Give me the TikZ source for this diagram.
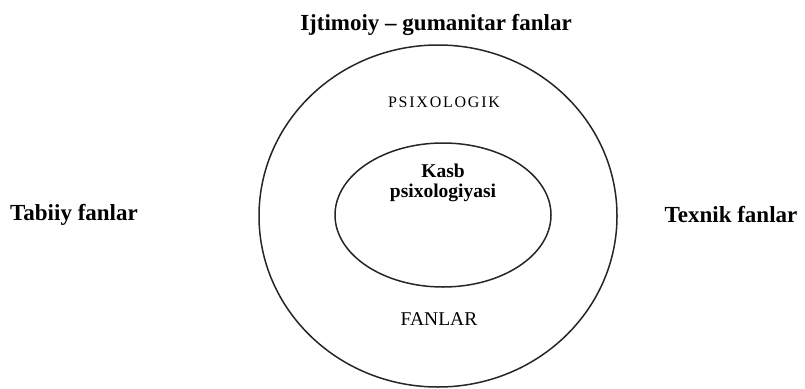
\documentclass[tikz,border=0pt]{standalone}
\usepackage{fontspec}
\setmainfont{Liberation Serif}
\usetikzlibrary{shapes.geometric}
\begin{document}
\begin{tikzpicture}[x=1pt,y=-1pt,
  ring/.style={draw=black!85, line width=1.5pt, ellipse, inner sep=0pt},
  outlabel/.style={font=\fontsize{23}{25}\selectfont\bfseries, inner sep=0pt, anchor=base},
  inlabel/.style={font=\fontsize{19.5}{21}\selectfont, inner sep=0pt, anchor=base}]
\useasboundingbox (0,0) rectangle (805,388);
\node[ring, minimum width=358pt, minimum height=342pt] (outer) at (438,216) {};
\node[ring, minimum width=216pt, minimum height=144pt] (inner) at (443,215) {};
\node[outlabel] (top) at (436,30) {Ijtimoiy -- gumanitar fanlar};
\node[outlabel] (left) at (74,220) {Tabiiy fanlar};
\node[outlabel] (right) at (731,222) {Texnik fanlar};
\node[inlabel, font=\fontsize{16}{18}\selectfont\addfontfeature{LetterSpace=11}] (psix) at (444,107) {PSIXOLOGIK};
\node[inlabel] (fanlar) at (439,325) {FANLAR};
\node[font=\fontsize{19.5}{20}\selectfont\bfseries, align=center, inner sep=0pt] (kasb) at (443,183) {Kasb\\psixologiyasi};
\end{tikzpicture}
\end{document}
